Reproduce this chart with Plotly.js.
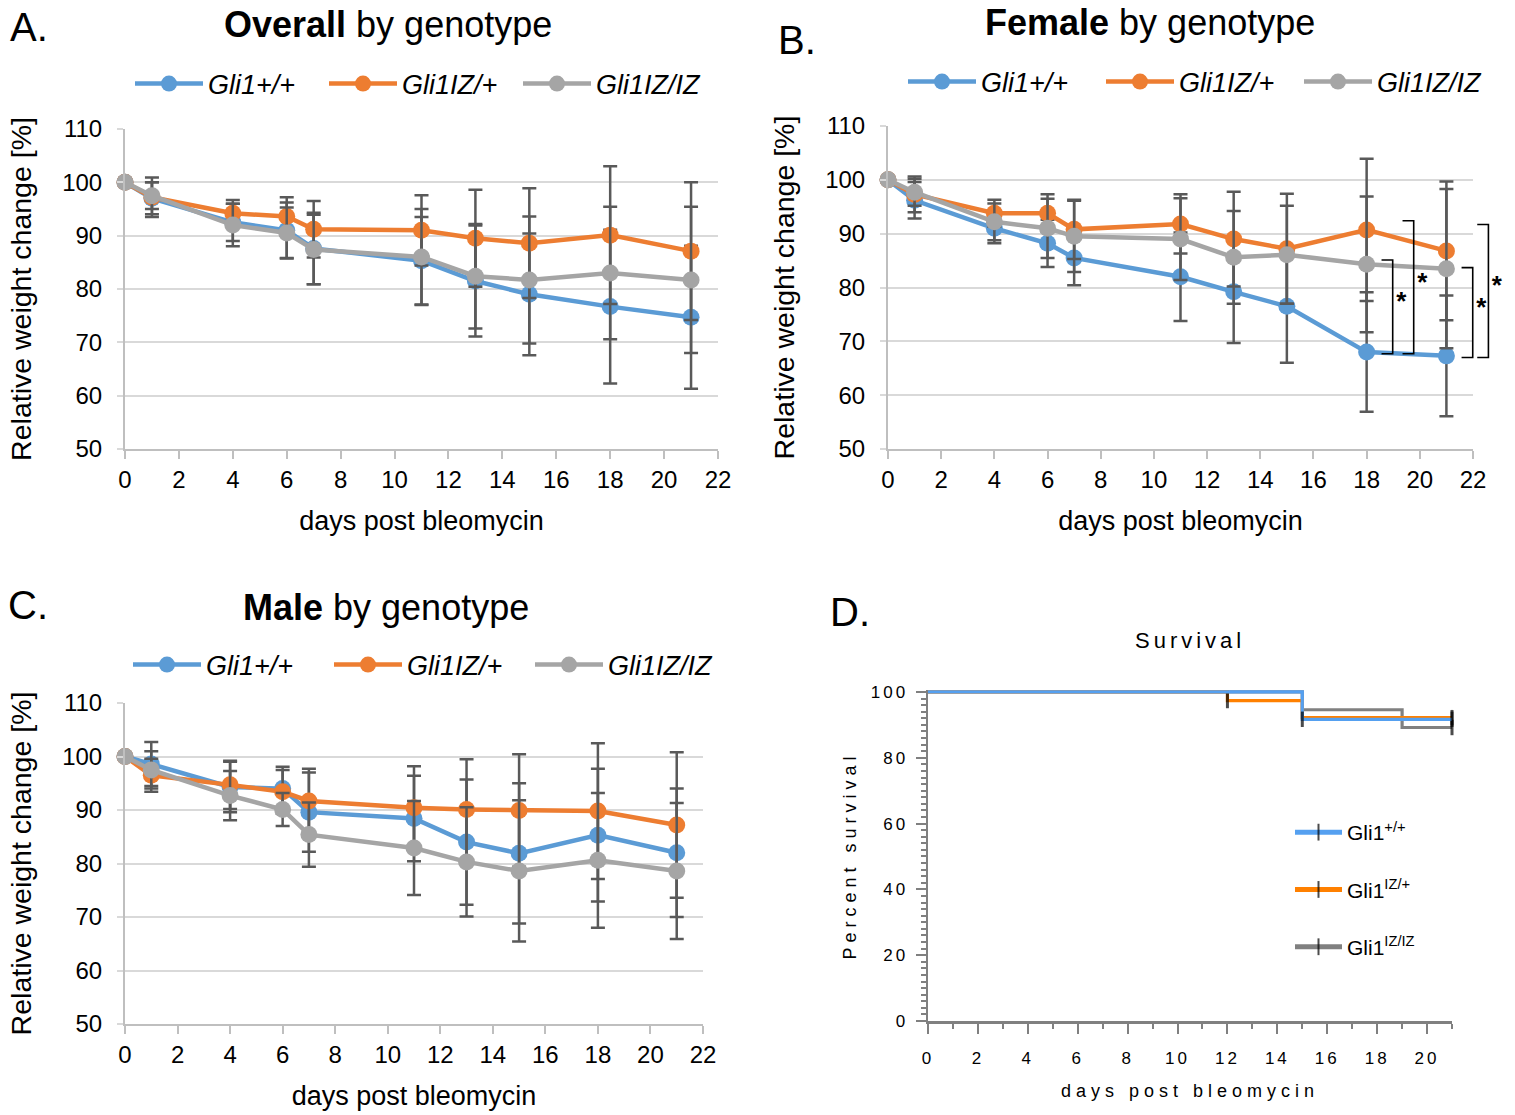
<!DOCTYPE html>
<html><head><meta charset="utf-8">
<script src="https://cdn.plot.ly/plotly-3.0.1.min.js"></script>
<style>
html,body{margin:0;padding:0;background:#fff;}
#chart{width:1515px;height:1115px;}
.annotation[data-index="7"] text{letter-spacing:4px;}
.x4tick text,.y4tick text{letter-spacing:3px;}
.x4title,.y4title{letter-spacing:5px;}
text.legendtext:not([style*="italic"]){letter-spacing:2.5px;}
</style></head><body><div id="chart"></div><script>
// ---------- DATA ----------
const days = [0, 1, 4, 6, 7, 11, 13, 15, 18, 21];
const genotypes = ['Gli1+/+', 'Gli1IZ/+', 'Gli1IZ/IZ'];

// Panel A: overall
const overallWT   = [100, 97.0, 92.5, 91.0, 87.6, 85.3, 81.5, 79.0, 76.7, 74.7];
const overallHet  = [100, 97.2, 94.2, 93.6, 91.2, 91.0, 89.5, 88.6, 90.1, 87.1];
const overallHom  = [100, 97.5, 92.0, 90.5, 87.4, 86.0, 82.4, 81.7, 83.0, 81.7];
const overallWTsd  = [0, 3.0, 3.5, 5.2, 6.7, 8.2, 10.4, 11.4, 14.4, 13.4];
const overallHetsd = [0, 3.7, 2.5, 3.6, 5.3, 6.6, 9.1, 10.3, 12.9, 12.9];
const overallHomsd = [0, 2.5, 4.0, 4.8, 6.5, 9.0, 9.8, 11.9, 12.4, 13.7];

// Panel B: female
const femaleWT   = [100, 96.2, 91.0, 88.2, 85.5, 82.0, 79.2, 76.5, 68.0, 67.3];
const femaleHet  = [100, 97.3, 93.8, 93.8, 90.8, 91.8, 89.0, 87.2, 90.7, 86.8];
const femaleHom  = [100, 97.7, 92.2, 91.0, 89.5, 89.0, 85.6, 86.1, 84.3, 83.5];
const femaleWTsd  = [0, 3.4, 2.8, 4.4, 5.1, 8.2, 9.5, 10.5, 11.1, 11.2];
const femaleHetsd = [0, 3.3, 2.5, 3.5, 5.5, 5.5, 8.8, 10.2, 13.2, 12.9];
const femaleHomsd = [0, 2.5, 3.4, 5.5, 6.6, 7.6, 8.6, 9.1, 12.6, 14.8];

// Panel B significance brackets (day position, top, bottom)
const sigX      = [18.98, 19.77, 21.99, 22.58];
const sigTop    = [85.1, 92.4, 83.7, 91.7];
const sigBottom = [67.7, 67.7, 67.0, 67.0];
const sigLabel  = ['*', '*', '*', '*'];

// Panel C: male
const maleWT   = [100, 98.6, 94.3, 94.0, 89.6, 88.4, 84.0, 81.9, 85.3, 82.0];
const maleHet  = [100, 96.5, 94.7, 93.4, 91.7, 90.4, 90.1, 89.9, 89.8, 87.2];
const maleHom  = [100, 97.5, 92.7, 90.1, 85.4, 82.9, 80.3, 78.6, 80.6, 78.6];
const maleWTsd  = [0, 4.1, 4.7, 4.1, 7.4, 8.0, 11.7, 13.1, 12.4, 12.0];
const maleHetsd = [0, 3.1, 4.5, 4.1, 6.0, 7.8, 9.4, 10.5, 12.7, 13.6];
const maleHomsd = [0, 3.5, 4.6, 3.1, 6.0, 8.8, 10.2, 13.2, 12.6, 12.7];

// Panel D: survival (Kaplan-Meier steps)
const survLabels = ['Gli1<sup>+/+</sup>', 'Gli1<sup>IZ/+</sup>', 'Gli1<sup>IZ/IZ</sup>'];
const survWTdays   = [0, 15, 21];
const survWT       = [100, 91.7, 91.7];
const survWTcens   = [0, 1, 1];
const survHetDays  = [0, 12, 15, 21];
const survHet      = [100, 97.4, 92.2, 92.2];
const survHetCens  = [0, 1, 0, 1];
const survHomDays  = [0, 15, 19, 21];
const survHom      = [100, 94.6, 89.2, 89.2];
const survHomCens  = [0, 0, 0, 1];

// ---------- STYLE / LAYOUT ----------
const W = 1515, H = 1115;
const px = v => v / W;
const py = v => 1 - v / H;
const F = 'Liberation Sans, Arial, sans-serif';
const excelColors = ['#5b9bd5', '#ed7d31', '#a5a5a5'];
const survColors = ['#55a0f0', '#ff8000', '#808080'];

function excelSeries(vals, sds, i, xa, ya, leg) {
  return {
    type: 'scatter', mode: 'lines+markers', x: days, y: vals, name: genotypes[i],
    xaxis: xa, yaxis: ya, legend: leg, cliponaxis: false,
    line: {color: excelColors[i], width: 4.5},
    marker: {color: excelColors[i], size: 17},
    error_y: {type: 'data', array: sds, visible: true, color: '#595959', thickness: 2.5, width: 7},
    hoverinfo: 'x+y+name'
  };
}

const traces = [];
[[overallWT, overallWTsd], [overallHet, overallHetsd], [overallHom, overallHomsd]].forEach((s, i) =>
  traces.push(excelSeries(s[0], s[1], i, 'x', 'y', 'legend')));
[[femaleWT, femaleWTsd], [femaleHet, femaleHetsd], [femaleHom, femaleHomsd]].forEach((s, i) =>
  traces.push(excelSeries(s[0], s[1], i, 'x2', 'y2', 'legend2')));
[[maleWT, maleWTsd], [maleHet, maleHetsd], [maleHom, maleHomsd]].forEach((s, i) =>
  traces.push(excelSeries(s[0], s[1], i, 'x3', 'y3', 'legend3')));

// significance brackets on an invisible overlay subplot sharing panel B's scale
const tickLen = 0.42;
sigX.forEach((sx, i) => {
  traces.push({
    type: 'scatter', mode: 'lines', xaxis: 'x5', yaxis: 'y5', showlegend: false, hoverinfo: 'skip',
    x: [sx - tickLen, sx, sx, sx - tickLen], y: [sigTop[i], sigTop[i], sigBottom[i], sigBottom[i]],
    line: {color: '#000', width: 1.6}
  });
});
traces.push({
  type: 'scatter', mode: 'text', xaxis: 'x5', yaxis: 'y5', showlegend: false, hoverinfo: 'skip',
  cliponaxis: false,
  x: sigX.map(v => v + 0.32), y: sigTop.map((t, i) => (t + sigBottom[i]) / 2 + 0.6),
  text: sigLabel, textposition: 'middle center',
  textfont: {family: F, size: 26, color: '#000', weight: 'bold'}
});

// survival curves
const survSets = [[survHomDays, survHom, survHomCens, 2], [survHetDays, survHet, survHetCens, 1], [survWTdays, survWT, survWTcens, 0]];
survSets.forEach(s => {
  const i = s[3];
  traces.push({
    type: 'scatter', mode: 'lines+markers', x: s[0], y: s[1], name: survLabels[i],
    xaxis: 'x4', yaxis: 'y4', legend: 'legend4', legendgroup: 'g' + i, legendrank: i + 1,
    cliponaxis: false,
    line: {color: survColors[i], width: 3.2, shape: 'hv'},
    marker: {symbol: 'line-ns', size: s[2].map(c => c ? 11 : 0), color: '#000', line: {color: '#000', width: 3}}
  });
});

const domA = {x: [px(125), px(718)], y: [py(449), py(129)]};
const domB = {x: [px(888), px(1473)], y: [py(449), py(126)]};
const domC = {x: [px(125), px(703)], y: [py(1024), py(703)]};
const domD = {x: [px(928), px(1452)], y: [py(1021), py(690)]};

function excelX(dom, anchor) {
  return {
    domain: dom, anchor: anchor, range: [0, 22], dtick: 2, tick0: 0,
    ticks: 'outside', ticklen: 8, tickwidth: 2, tickcolor: '#bfbfbf',
    showline: true, linecolor: '#bfbfbf', linewidth: 2, showgrid: false, zeroline: false,
    tickfont: {family: F, size: 24, color: '#000'}, ticklabelstandoff: 0,
    title: {text: 'days post bleomycin', font: {family: F, size: 27, color: '#000'}, standoff: 19},
    fixedrange: true
  };
}
function excelY(dom, anchor) {
  return {
    domain: dom, anchor: anchor, range: [50, 110], dtick: 10, tick0: 0,
    ticks: 'outside', ticklen: 6, tickwidth: 2, tickcolor: '#d9d9d9',
    showline: true, linecolor: '#bfbfbf', linewidth: 2,
    showgrid: true, gridcolor: '#d9d9d9', gridwidth: 2, zeroline: false,
    tickfont: {family: F, size: 24, color: '#000'}, ticklabelstandoff: 10,
    title: {text: 'Relative weight change [%]', font: {family: F, size: 28.5, color: '#000'}, standoff: 22},
    fixedrange: true
  };
}
function excelLegend(xp, yp, ew) {
  return {
    orientation: 'h', x: px(xp), y: py(yp), xanchor: 'left', yanchor: 'middle',
    font: {family: F, size: 27, style: 'italic', color: '#000'},
    itemwidth: 68, entrywidth: ew, entrywidthmode: 'pixels',
    bgcolor: 'rgba(0,0,0,0)', borderwidth: 0, itemclick: false, itemdoubleclick: false
  };
}

const overlayRange = 23.5;
const overlayWidth = (domB.x[1] - domB.x[0]) * overlayRange / 22;

const layout = {
  width: W, height: H, autosize: false,
  margin: {l: 0, r: 0, t: 0, b: 0, autoexpand: false},
  paper_bgcolor: '#fff', plot_bgcolor: 'rgba(0,0,0,0)',
  font: {family: F, color: '#000'},
  showlegend: true, hovermode: false,
  xaxis: excelX(domA.x, 'y'), yaxis: excelY(domA.y, 'x'),
  xaxis2: excelX(domB.x, 'y2'), yaxis2: excelY(domB.y, 'x2'),
  xaxis3: excelX(domC.x, 'y3'), yaxis3: excelY(domC.y, 'x3'),
  xaxis5: {domain: [domB.x[0], Math.min(1, domB.x[0] + overlayWidth)], anchor: 'y5', range: [0, overlayRange], visible: false, fixedrange: true},
  yaxis5: {domain: domB.y, anchor: 'x5', range: [50, 110], visible: false, fixedrange: true},
  xaxis4: {
    domain: domD.x, anchor: 'y4', range: [0, 21], dtick: 2, tick0: 0,
    ticks: 'outside', ticklen: 10, tickwidth: 2, tickcolor: '#808080',
    minor: {dtick: 1, ticklen: 5, tickwidth: 2, tickcolor: '#808080', showgrid: false, ticks: 'outside'},
    showline: true, linecolor: '#808080', linewidth: 2.5, showgrid: false, zeroline: false,
    tickfont: {family: F, size: 17, color: '#000'}, ticklabelstandoff: 10,
    title: {text: 'days post bleomycin', font: {family: F, size: 18, color: '#000'}, standoff: 18},
    fixedrange: true
  },
  yaxis4: {
    domain: domD.y, anchor: 'x4', range: [0, 100.6], dtick: 20, tick0: 0,
    ticks: 'outside', ticklen: 10, tickwidth: 2, tickcolor: '#808080',
    minor: {dtick: 2, ticklen: 5, tickwidth: 2, tickcolor: '#808080', showgrid: false, ticks: 'outside'},
    showline: true, linecolor: '#808080', linewidth: 2.5, showgrid: false, zeroline: false,
    tickfont: {family: F, size: 17, color: '#000'}, ticklabelstandoff: 4,
    title: {text: 'Percent survival', font: {family: F, size: 18, color: '#000'}, standoff: 10},
    fixedrange: true
  },
  legend: excelLegend(130, 84, 111),
  legend2: excelLegend(903, 82, 115),
  legend3: excelLegend(128, 665, 118),
  legend4: {
    orientation: 'v', x: px(1290), y: py(812), xanchor: 'left', yanchor: 'top',
    font: {family: F, size: 21, color: '#000'}, itemwidth: 47, itemsizing: 'constant',
    tracegroupgap: 27, traceorder: 'grouped',
    bgcolor: 'rgba(0,0,0,0)', borderwidth: 0, itemclick: false, itemdoubleclick: false
  },
  annotations: [
    {text: 'A.', x: px(8), y: py(27), xref: 'paper', yref: 'paper', xanchor: 'left', yanchor: 'middle', showarrow: false, font: {family: F, size: 40}},
    {text: 'B.', x: px(776), y: py(40), xref: 'paper', yref: 'paper', xanchor: 'left', yanchor: 'middle', showarrow: false, font: {family: F, size: 40}},
    {text: 'C.', x: px(6), y: py(605), xref: 'paper', yref: 'paper', xanchor: 'left', yanchor: 'middle', showarrow: false, font: {family: F, size: 40}},
    {text: 'D.', x: px(828), y: py(612), xref: 'paper', yref: 'paper', xanchor: 'left', yanchor: 'middle', showarrow: false, font: {family: F, size: 40}},
    {text: '<b>Overall</b> by genotype', x: px(388), y: py(25), xref: 'paper', yref: 'paper', xanchor: 'center', yanchor: 'middle', showarrow: false, font: {family: F, size: 36}},
    {text: '<b>Female</b> by genotype', x: px(1150), y: py(22), xref: 'paper', yref: 'paper', xanchor: 'center', yanchor: 'middle', showarrow: false, font: {family: F, size: 36}},
    {text: '<b>Male</b> by genotype', x: px(386), y: py(607), xref: 'paper', yref: 'paper', xanchor: 'center', yanchor: 'middle', showarrow: false, font: {family: F, size: 36}},
    {text: 'Survival', x: px(1190), y: py(640), xref: 'paper', yref: 'paper', xanchor: 'center', yanchor: 'middle', showarrow: false, font: {family: F, size: 22}}
  ]
};

function spaceSurvivalLegend() {
  document.querySelectorAll('#chart text.legendtext').forEach(t => {
    if (!/italic/.test(t.getAttribute('style') || '')) {
      t.style.letterSpacing = '2.5px';
      t.querySelectorAll('tspan').forEach(s => { s.style.letterSpacing = '2.5px'; });
    }
  });
}
Plotly.newPlot('chart', traces, layout, {displayModeBar: false, staticPlot: true}).then(() => {
  spaceSurvivalLegend();
  setTimeout(spaceSurvivalLegend, 50);
  requestAnimationFrame(spaceSurvivalLegend);
});
</script></body></html>
